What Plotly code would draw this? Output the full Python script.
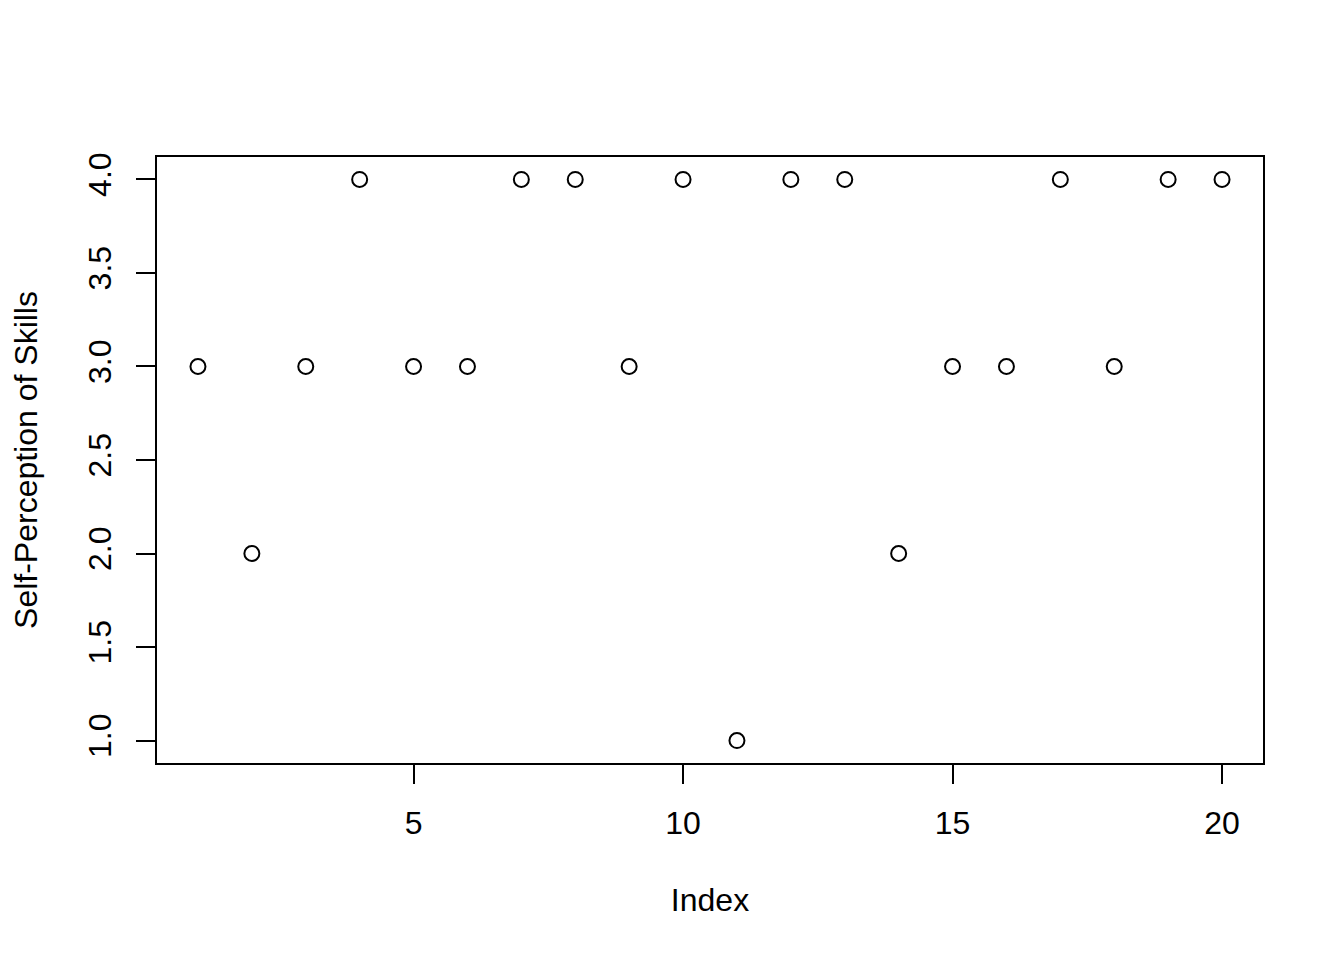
import plotly.graph_objects as go

index = list(range(1, 21))
skills = [3, 2, 3, 4, 3, 3, 4, 4, 3, 4, 1, 4, 4, 2, 3, 3, 4, 3, 4, 4]
x_ticks = [5, 10, 15, 20]
y_ticks = [1.0, 1.5, 2.0, 2.5, 3.0, 3.5, 4.0]
y_tick_text = ["1.0", "1.5", "2.0", "2.5", "3.0", "3.5", "4.0"]

FONT = "Liberation Sans, Arial, Helvetica, sans-serif"

fig = go.Figure(go.Scatter(
    x=index, y=skills, mode="markers",
    marker=dict(symbol="circle-open", size=15, color="black", line=dict(width=2, color="black")),
    hoverinfo="x+y",
))

fig.update_layout(
    width=1336, height=952,
    margin=dict(l=149, r=81, t=149, b=197),
    paper_bgcolor="white", plot_bgcolor="white",
    font=dict(family=FONT, size=32, color="black"),
    showlegend=False,
)
fig.update_xaxes(
    range=[0.24, 20.76], tickvals=x_ticks, ticks="outside", ticklen=19, tickwidth=2,
    tickcolor="black", showline=True, linecolor="black", linewidth=2, mirror=True,
    showgrid=False, zeroline=False, tickfont=dict(size=32), ticklabelstandoff=12,
    title=dict(text="Index", font=dict(size=32), standoff=48),
)
fig.update_yaxes(
    range=[0.88, 4.12], tickvals=y_ticks, ticktext=y_tick_text, tickangle=-90,
    ticks="outside", ticklen=19, tickwidth=2,
    tickcolor="black", showline=True, linecolor="black", linewidth=2, mirror=True,
    showgrid=False, zeroline=False, tickfont=dict(size=32), ticklabelstandoff=12,
    title=dict(text="Self-Perception of Skills", font=dict(size=32), standoff=37),
)

fig.write_html("out.html")
